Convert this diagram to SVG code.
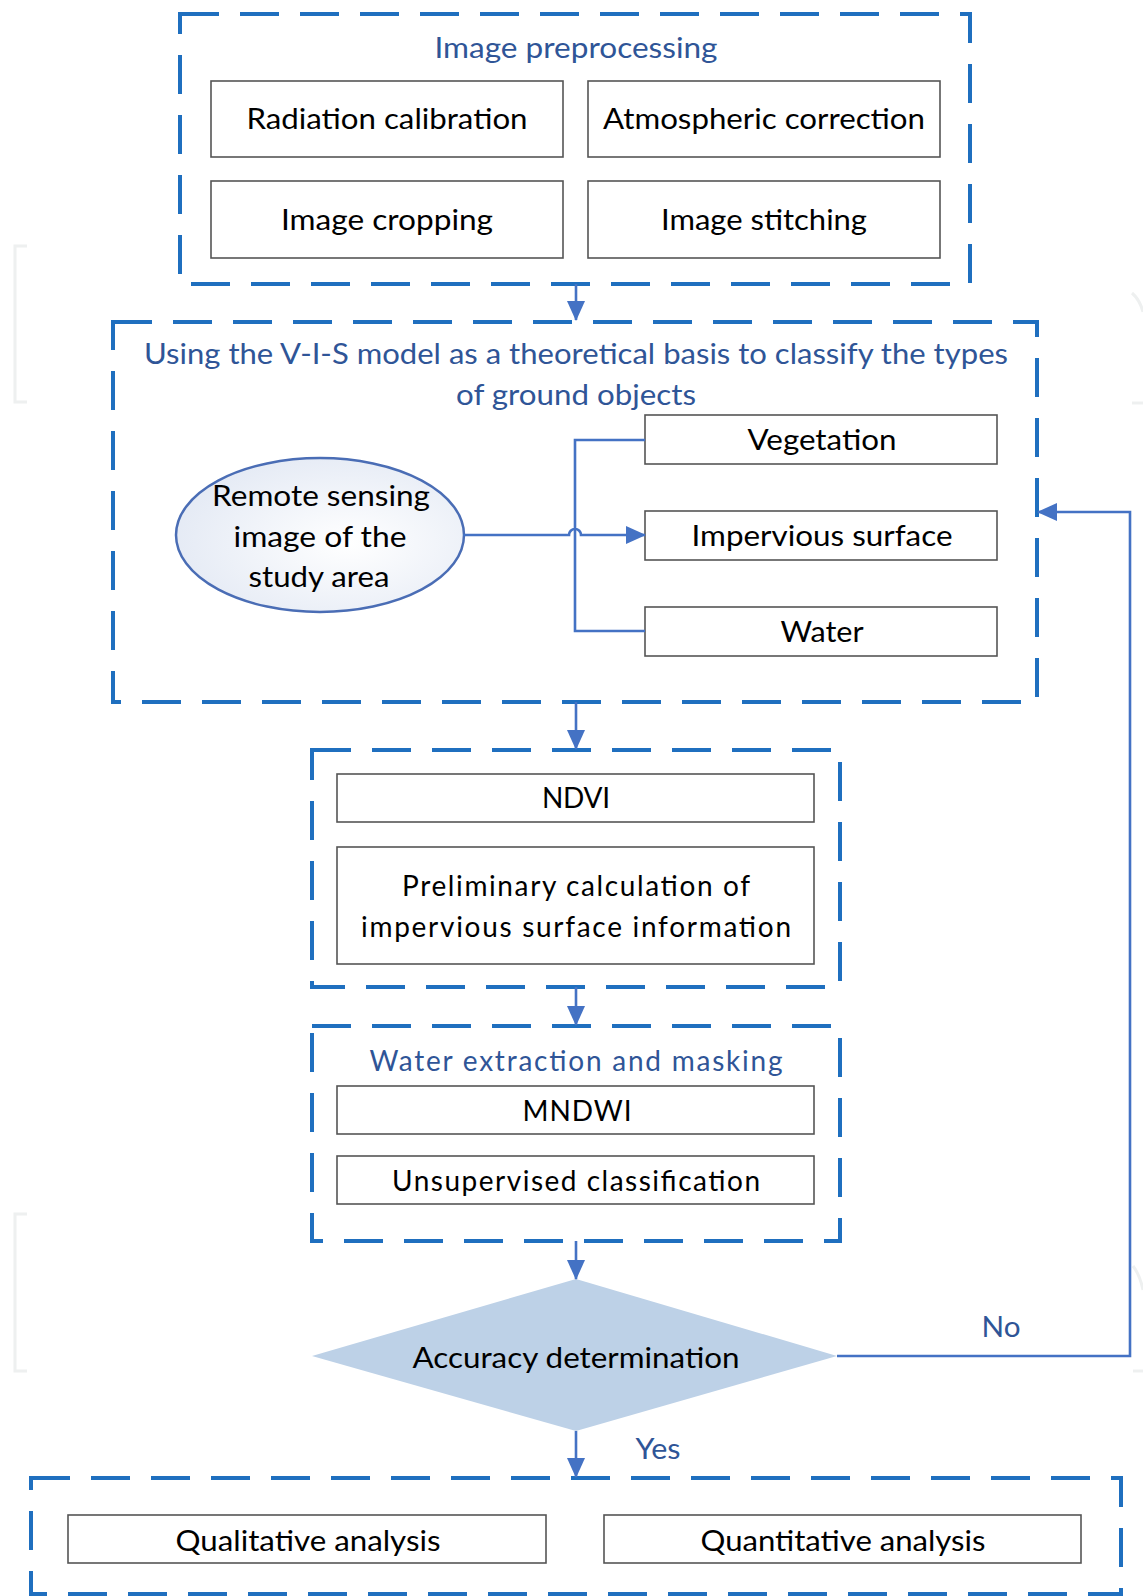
<svg xmlns="http://www.w3.org/2000/svg" width="1143" height="1596" viewBox="0 0 1143 1596">
<style>
.grp{fill:none;stroke:#1F6FBF;stroke-width:4;stroke-dasharray:39 21}
.box{fill:#fff;stroke:#555;stroke-width:1.6}
.t{font-family:Lato,"Open Sans","Liberation Sans",sans-serif;font-size:28px;fill:#000;text-anchor:middle}
.bt{fill:#2F5597}
.con{fill:none;stroke:#4472C4;stroke-width:2.6}
.faint{fill:none;stroke:#eef0f0;stroke-width:3}
</style>
<defs>
<marker id="ah" markerUnits="userSpaceOnUse" markerWidth="20" markerHeight="18" viewBox="0 0 20 18" refX="19" refY="9" orient="auto">
<path d="M0,0 L20,9 L0,18 Z" fill="#4472C4"/>
</marker>
<radialGradient id="eg" cx="0.6" cy="0.55" r="0.65">
<stop offset="0" stop-color="#ffffff"/>
<stop offset="1" stop-color="#e3e9f4"/>
</radialGradient>
</defs>
<g id="artifacts">
<path class="faint" d="M27,246 H15 V402 H27"/>
<path class="faint" d="M27,1214 H15 V1371 H27"/>
<path class="faint" d="M1132,293 Q1140,300 1143,312"/>
<path class="faint" d="M1132,403 H1143"/>
<path class="faint" d="M1133,1266 Q1140,1275 1143,1290"/>
<path class="faint" d="M1133,1371 H1143"/>
</g>
<g id="preprocessing">
<rect class="grp" x="180" y="14" width="790" height="270"/>
<text class="t bt" x="576" y="58" textLength="283" lengthAdjust="spacingAndGlyphs">Image preprocessing</text>
<g id="radiation"><rect class="box" x="211" y="81" width="352" height="76"/><text class="t" x="387" y="129" textLength="281" lengthAdjust="spacingAndGlyphs">Radiation calibration</text></g>
<g id="atmospheric"><rect class="box" x="588" y="81" width="352" height="76"/><text class="t" x="764" y="129" textLength="322" lengthAdjust="spacingAndGlyphs">Atmospheric correction</text></g>
<g id="cropping"><rect class="box" x="211" y="181" width="352" height="77"/><text class="t" x="387" y="230" textLength="212" lengthAdjust="spacingAndGlyphs">Image cropping</text></g>
<g id="stitching"><rect class="box" x="588" y="181" width="352" height="77"/><text class="t" x="764" y="230" textLength="206" lengthAdjust="spacingAndGlyphs">Image stitching</text></g>
</g>
<g id="classification">
<rect class="grp" x="113" y="322" width="924" height="380"/>
<text class="t bt" x="576" y="364" textLength="864" lengthAdjust="spacingAndGlyphs">Using the V-I-S model as a theoretical basis to classify the types</text>
<text class="t bt" x="576" y="405" textLength="240" lengthAdjust="spacingAndGlyphs">of ground objects</text>
<g id="rs-image">
<ellipse cx="320" cy="535" rx="144" ry="77" fill="url(#eg)" stroke="#4A6DB5" stroke-width="2.5"/>
<text class="t" x="321" y="506" textLength="218" lengthAdjust="spacingAndGlyphs">Remote sensing</text>
<text class="t" x="320" y="547" textLength="173" lengthAdjust="spacingAndGlyphs">image of the</text>
<text class="t" x="319" y="587" textLength="141" lengthAdjust="spacingAndGlyphs">study area</text>
</g>
<g id="vegetation"><rect class="box" x="645" y="415" width="352" height="49"/><text class="t" x="822" y="450" textLength="149" lengthAdjust="spacingAndGlyphs">Vegetation</text></g>
<g id="impervious"><rect class="box" x="645" y="511" width="352" height="49"/><text class="t" x="822" y="546" textLength="261" lengthAdjust="spacingAndGlyphs">Impervious surface</text></g>
<g id="water"><rect class="box" x="645" y="607" width="352" height="49"/><text class="t" x="822" y="642" textLength="83" lengthAdjust="spacingAndGlyphs">Water</text></g>
</g>
<g id="indices">
<rect class="grp" x="312" y="750" width="528" height="237"/>
<g id="ndvi"><rect class="box" x="337" y="774" width="477" height="48"/><text class="t" x="576" y="808" textLength="68">NDVI</text></g>
<g id="preliminary"><rect class="box" x="337" y="847" width="477" height="117"/>
<text class="t" x="576" y="896" textLength="348">Preliminary calculation of</text>
<text class="t" x="576" y="937" textLength="430">impervious surface information</text></g>
</g>
<g id="water-extraction">
<rect class="grp" x="312" y="1026" width="528" height="215"/>
<text class="t bt" x="576" y="1071" textLength="413">Water extraction and masking</text>
<g id="mndwi"><rect class="box" x="337" y="1086" width="477" height="48"/><text class="t" x="577" y="1121" textLength="109">MNDWI</text></g>
<g id="unsupervised"><rect class="box" x="337" y="1156" width="477" height="48"/><text class="t" x="576" y="1191" textLength="368">Unsupervised classification</text></g>
</g>
<g id="accuracy">
<polygon points="576,1279 837,1356 576,1431 312,1356" fill="#BDD1E7"/>
<text class="t" x="576" y="1368" textLength="327" lengthAdjust="spacingAndGlyphs">Accuracy determination</text>
</g>
<g id="analysis">
<rect class="grp" x="31" y="1478" width="1090" height="116"/>
<g id="qualitative"><rect class="box" x="68" y="1515" width="478" height="48"/><text class="t" x="308" y="1551" textLength="265" lengthAdjust="spacingAndGlyphs">Qualitative analysis</text></g>
<g id="quantitative"><rect class="box" x="604" y="1515" width="477" height="48"/><text class="t" x="843" y="1551" textLength="285" lengthAdjust="spacingAndGlyphs">Quantitative analysis</text></g>
</g>
<g id="connectors">
<path class="con" d="M576,284 V320" marker-end="url(#ah)"/>
<path class="con" d="M645,440 H575 V631 H645"/>
<path class="con" d="M463,535 H569 A6,6 0 0 1 581,535 H645" marker-end="url(#ah)"/>
<path class="con" d="M576,702 V749" marker-end="url(#ah)"/>
<path class="con" d="M576,987 V1025" marker-end="url(#ah)"/>
<path class="con" d="M576,1241 V1279" marker-end="url(#ah)"/>
<path class="con" d="M837,1356 H1130 V512 H1038" marker-end="url(#ah)"/>
<path class="con" d="M576,1431 V1477" marker-end="url(#ah)"/>
<text class="t bt" x="1001" y="1337" textLength="39" lengthAdjust="spacingAndGlyphs">No</text>
<text class="t bt" x="658" y="1459" textLength="45" lengthAdjust="spacingAndGlyphs">Yes</text>
</g>
</svg>
